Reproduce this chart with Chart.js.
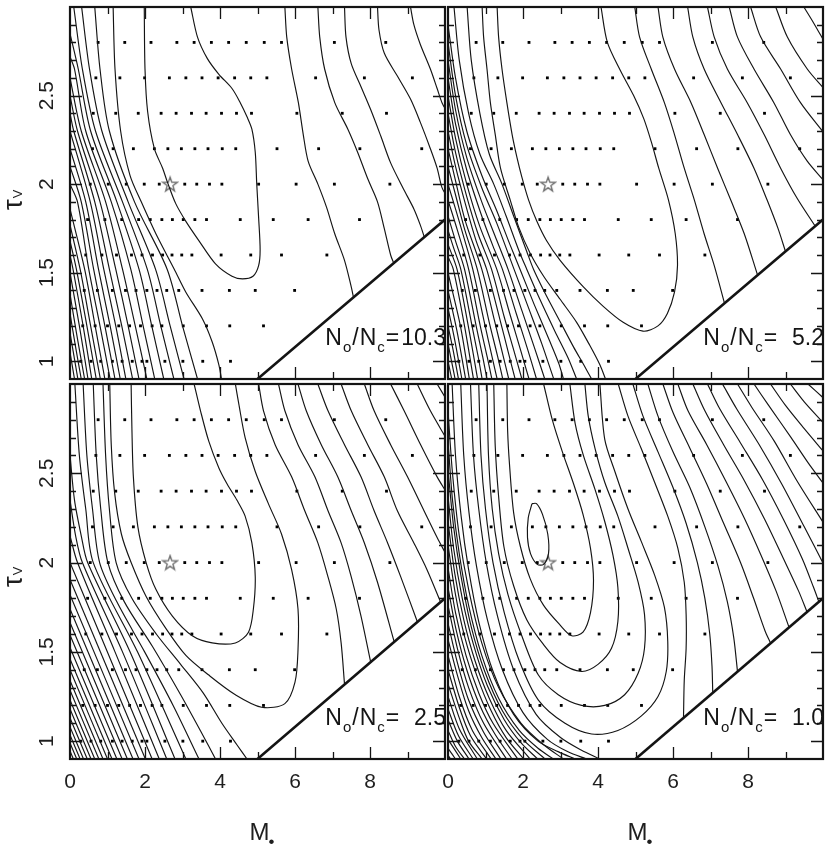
<!DOCTYPE html>
<html><head><meta charset="utf-8">
<script src="https://cdn.jsdelivr.net/npm/chart.js@4"></script>
<style>
html,body{margin:0;padding:0;background:#fff;}
#wrap{position:relative;width:830px;height:847px;overflow:hidden;background:#fff;}
canvas{position:absolute;}
</style></head><body>
<div id="wrap">
<canvas id="cTL" width="452" height="386" style="left:0px;top:0px"></canvas>
<canvas id="cTR" width="400" height="386" style="left:430px;top:0px"></canvas>
<canvas id="cBL" width="452" height="470" style="left:0px;top:377px"></canvas>
<canvas id="cBR" width="400" height="470" style="left:430px;top:377px"></canvas>
</div>
<script>
// ---------------- data ----------------
const xTickLabels = [0, 2, 4, 6, 8];
const yTickLabels = [1, 1.5, 2, 2.5];
const xMajorTicks = [2, 4, 6, 8];
const xMinorTicks = [1, 3, 5, 7, 9];
const yMajorTicks = [1, 1.5, 2, 2.5];
const yMinorTicks = [1.1,1.2,1.3,1.4,1.6,1.7,1.8,1.9,2.1,2.2,2.3,2.4,2.6,2.7,2.8,2.9];
const ratioLabels = ['10.3', '5.2', '2.5', '1.0'];

const gridTau = [2.8, 2.6, 2.4, 2.2, 2.0, 1.8, 1.6, 1.4, 1.2, 1.0];
const gridM_28 = [0.75,1.46,2.16,2.85,3.31,3.77,4.23,4.70,5.18,5.64,7.05,8.42];
const gridM_26 = [0.69,1.33,1.99,2.65,3.09,3.52,3.95,4.39,4.82,5.25,6.55,7.85,9.13];
const gridM_24 = [0.62,1.22,1.82,2.43,2.83,3.24,3.63,4.04,4.44,4.84,6.05,7.26,8.44];
const gridM_22 = [0.6,1.15,1.69,2.25,2.61,2.97,3.33,3.68,4.06,4.42,5.52,6.63,7.73,9.38];
const gridM_20 = [0.54,1.02,1.5,1.98,2.38,3.06,3.38,3.72,4.05,5.03,6.03,7.05,8.53];
const gridM_18 = [0.47,0.93,1.38,1.83,2.14,2.45,2.73,3.02,3.33,3.64,4.54,5.42,6.35,7.72];
const gridM_16 = [0.42,0.85,1.24,1.64,1.92,2.2,2.47,2.72,2.98,3.25,4.03,4.82,5.64,6.85];
const gridM_14 = [0.38,0.73,1.13,1.48,1.76,2.05,2.32,2.58,2.9,3.52,4.25,4.94,5.99];
const gridM_12 = [0.34,0.67,1.0,1.3,1.59,1.88,2.19,2.45,3.02,3.64,4.26,5.16];
const gridM_10 = [0.29,0.56,0.82,1.13,1.39,1.66,1.92,2.05,2.53,3.01,3.54,4.28];
const gridRows = [gridM_28, gridM_26, gridM_24, gridM_22, gridM_20, gridM_18, gridM_16, gridM_14, gridM_12, gridM_10];

const bestFit = [2.67, 2.0];
const boundaryLine = [[5, 0.9], [10, 1.8]];

// ---- panel N_o/N_c = 10.3 ----
const tlInner = [[1.98,3.0],[2.0,2.65],[2.07,2.41],[2.25,2.2],[2.47,2.09],[2.6,2.01],[2.82,1.89],[3.09,1.79],[3.44,1.68],[3.88,1.55],[4.32,1.48],[4.6,1.465],[4.88,1.48],[5.03,1.54],[5.07,1.63],[5.03,1.81],[4.98,2.0],[4.94,2.18],[4.85,2.31],[4.72,2.38],[4.54,2.46],[4.32,2.54],[3.97,2.62],[3.66,2.71],[3.4,2.83],[3.22,3.0]];
const tlLeft = [
 [[0,1.05],[0.12,0.9]],
 [[0,1.16],[0.21,0.9]],
 [[0,1.27],[0.15,1.08],[0.30,0.9]],
 [[0,1.38],[0.18,1.15],[0.39,0.9]],
 [[0,1.5],[0.25,1.2],[0.48,0.9]],
 [[0,1.6],[0.08,1.52],[0.35,1.2],[0.58,0.9]],
 [[0,1.68],[0.17,1.52],[0.45,1.2],[0.70,0.9]],
 [[0,1.77],[0.27,1.52],[0.55,1.2],[0.81,0.9]],
 [[0,1.86],[0.39,1.52],[0.67,1.2],[0.93,0.9]],
 [[0,2.0],[0.2,1.9],[0.5,1.52],[0.8,1.2],[1.07,0.9]],
 [[0,2.1],[0.3,1.9],[0.63,1.52],[0.93,1.2],[1.2,0.9]],
 [[0,2.2],[0.42,1.9],[0.76,1.52],[1.07,1.2],[1.34,0.9]],
 [[0,2.3],[0.54,1.9],[0.9,1.52],[1.22,1.2],[1.49,0.9]],
 [[0,2.4],[0.1,2.3],[0.66,1.9],[1.05,1.52],[1.38,1.2],[1.67,0.9]],
 [[0,2.5],[0.2,2.3],[0.8,1.9],[1.22,1.52],[1.55,1.2],[1.84,0.9]],
 [[0,2.6],[0.3,2.3],[0.95,1.9],[1.4,1.52],[1.74,1.2],[2.05,0.9]],
 [[0,2.72],[0.12,2.65],[0.42,2.3],[1.1,1.9],[1.62,1.52],[1.95,1.2],[2.26,0.9]],
 [[0,2.85],[0.22,2.65],[0.55,2.3],[1.25,1.9],[1.84,1.52],[2.18,1.2],[2.5,0.9]],
 [[0.1,3.0],[0.33,2.65],[0.68,2.3],[1.4,1.9],[2.06,1.52],[2.42,1.2],[2.77,0.9]],
 [[0.31,3.0],[0.52,2.65],[0.85,2.3],[1.55,1.9],[2.28,1.52],[2.67,1.2],[3.04,0.9]],
 [[0.66,3.0],[0.8,2.65],[1.05,2.3],[1.72,1.9],[2.59,1.52],[3.0,1.2],[3.4,0.9]],
 [[1.15,3.0],[1.2,2.65],[1.35,2.3],[1.6,2.05],[1.9,1.9],[2.29,1.72],[2.78,1.52],[3.09,1.39],[3.53,1.24],[3.79,1.11],[3.97,0.98],[4.04,0.9]]
];
const tlRight = [
 [[5.73,3.0],[5.78,2.83],[5.91,2.65],[6.09,2.46],[6.22,2.28],[6.35,2.13],[6.61,2.0],[6.84,1.87],[7.06,1.72],[7.32,1.57],[7.5,1.42],[7.56,1.36]],
 [[6.61,3.0],[6.66,2.83],[6.79,2.65],[7.06,2.46],[7.41,2.31],[7.67,2.18],[7.94,2.03],[8.2,1.9],[8.38,1.75],[8.55,1.6],[8.64,1.55]],
 [[7.32,3.0],[7.36,2.83],[7.5,2.68],[7.76,2.55],[8.02,2.42],[8.29,2.27],[8.55,2.12],[8.9,1.97],[9.17,1.86],[9.34,1.77],[9.45,1.7]],
 [[8.2,3.0],[8.24,2.87],[8.38,2.74],[8.73,2.61],[9.08,2.48],[9.34,2.35],[9.61,2.2],[9.79,2.09],[9.92,1.98],[10.05,1.93]],
 [[9.08,3.0],[9.17,2.9],[9.34,2.79],[9.61,2.65],[9.79,2.54],[9.92,2.46],[10.05,2.41]]
];

// ---- panel N_o/N_c = 5.2 ----
const trInner = [[1.31,3.0],[1.35,2.83],[1.44,2.65],[1.57,2.46],[1.71,2.28],[1.84,2.15],[1.97,2.04],[2.15,1.91],[2.37,1.79],[2.63,1.68],[2.99,1.57],[3.61,1.42],[4.14,1.31],[4.67,1.22],[5.2,1.17],[5.6,1.2],[5.85,1.27],[6.04,1.39],[6.12,1.54],[6.06,1.72],[5.88,1.91],[5.62,2.09],[5.42,2.24],[5.22,2.37],[4.95,2.5],[4.6,2.64],[4.25,2.8],[4.08,3.0]];
const trLeft = [
 [[0,1.0],[0.1,0.9]],
 [[0,1.1],[0.19,0.9]],
 [[0,1.2],[0.13,1.07],[0.28,0.9]],
 [[0,1.3],[0.18,1.12],[0.37,0.9]],
 [[0,1.4],[0.24,1.17],[0.47,0.9]],
 [[0,1.5],[0.33,1.2],[0.57,0.9]],
 [[0,1.59],[0.14,1.52],[0.44,1.2],[0.68,0.9]],
 [[0,1.66],[0.24,1.52],[0.54,1.2],[0.79,0.9]],
 [[0,1.74],[0.15,1.64],[0.34,1.52],[0.64,1.2],[0.81,1.02],[0.91,0.9]],
 [[0,1.82],[0.2,1.68],[0.44,1.52],[0.75,1.2],[0.93,1.02],[1.04,0.9]],
 [[0,1.91],[0.25,1.74],[0.55,1.52],[0.86,1.2],[1.05,1.02],[1.17,0.9]],
 [[0,2.0],[0.2,1.86],[0.45,1.68],[0.66,1.52],[0.98,1.21],[1.18,1.02],[1.31,0.9]],
 [[0,2.1],[0.2,1.94],[0.45,1.74],[0.78,1.52],[1.1,1.22],[1.32,1.03],[1.46,0.9]],
 [[0,2.2],[0.2,2.02],[0.45,1.8],[0.9,1.52],[1.24,1.23],[1.47,1.03],[1.62,0.9]],
 [[0,2.3],[0.2,2.1],[0.5,1.86],[0.75,1.68],[1.03,1.52],[1.38,1.24],[1.62,1.04],[1.79,0.9]],
 [[0,2.4],[0.2,2.18],[0.5,1.93],[0.8,1.72],[1.16,1.52],[1.5,1.25],[1.77,1.05],[1.97,0.9]],
 [[0,2.5],[0.2,2.26],[0.5,2.0],[0.85,1.76],[1.3,1.52],[1.66,1.26],[1.94,1.06],[2.16,0.9]],
 [[0,2.6],[0.2,2.34],[0.5,2.08],[0.9,1.82],[1.2,1.65],[1.45,1.52],[1.82,1.27],[2.12,1.07],[2.36,0.9]],
 [[0,2.7],[0.2,2.42],[0.5,2.15],[0.9,1.9],[1.25,1.71],[1.6,1.52],[1.98,1.28],[2.3,1.08],[2.58,0.9]],
 [[0,2.8],[0.2,2.5],[0.5,2.22],[0.9,1.98],[1.3,1.78],[1.76,1.52],[2.15,1.3],[2.5,1.1],[2.82,0.9]],
 [[0,2.9],[0.2,2.6],[0.5,2.3],[0.9,2.05],[1.3,1.85],[1.65,1.66],[1.92,1.52],[2.3,1.32],[2.7,1.12],[2.95,0.99],[3.08,0.9]],
 [[0.16,3.0],[0.3,2.7],[0.55,2.4],[0.85,2.17],[1.22,2.0],[1.55,1.82],[1.9,1.62],[2.1,1.52],[2.45,1.35],[2.85,1.17],[3.2,1.02],[3.43,0.9]],
 [[0.51,3.0],[0.62,2.7],[0.85,2.4],[1.1,2.17],[1.44,2.0],[1.75,1.82],[2.1,1.62],[2.28,1.52],[2.6,1.38],[3.0,1.22],[3.35,1.08],[3.62,0.98],[3.83,0.9]],
 [[0.91,3.0],[0.95,2.83],[1.04,2.65],[1.13,2.46],[1.26,2.28],[1.4,2.09],[1.66,1.91],[1.88,1.76],[2.19,1.61],[2.55,1.48],[2.99,1.35],[3.43,1.22],[3.78,1.09],[4.05,0.98],[4.2,0.9]]
];
const trRight = [
 [[4.98,3.0],[5.11,2.83],[5.42,2.65],[5.77,2.46],[6.04,2.28],[6.3,2.09],[6.57,1.91],[6.83,1.72],[7.1,1.54],[7.37,1.33]],
 [[5.6,3.0],[5.73,2.83],[6.04,2.65],[6.48,2.46],[6.83,2.28],[7.19,2.09],[7.54,1.91],[7.9,1.72],[8.25,1.49]],
 [[6.39,3.0],[6.53,2.83],[6.83,2.65],[7.28,2.46],[7.72,2.28],[8.16,2.09],[8.51,1.91],[8.8,1.75],[9.0,1.62]],
 [[6.92,3.0],[7.1,2.83],[7.45,2.65],[7.98,2.46],[8.43,2.28],[8.87,2.09],[9.31,1.92],[9.8,1.76]],
 [[7.5,3.0],[7.72,2.83],[8.16,2.65],[8.69,2.46],[9.13,2.28],[9.58,2.13],[10.02,2.02]],
 [[8.07,3.0],[8.34,2.83],[8.87,2.65],[9.4,2.46],[10.02,2.29]],
 [[8.74,3.0],[9.05,2.83],[9.58,2.65],[10.02,2.54]],
 [[9.49,3.0],[9.75,2.91],[10.02,2.81]]
];

// ---- panel N_o/N_c = 2.5 ----
const blInner = [[1.63,3.0],[1.65,2.76],[1.69,2.48],[1.81,2.2],[2.03,2.0],[2.29,1.85],[2.73,1.7],[3.26,1.59],[3.79,1.55],[4.41,1.55],[4.76,1.61],[4.89,1.74],[4.94,1.92],[4.85,2.11],[4.67,2.26],[4.45,2.35],[4.19,2.44],[3.97,2.53],[3.7,2.68],[3.48,2.85],[3.31,3.0]];
const blSecond = [[1.06,3.0],[1.1,2.66],[1.19,2.39],[1.37,2.16],[1.63,2.0],[2.03,1.81],[2.56,1.63],[3.09,1.48],[3.7,1.37],[4.41,1.26],[5.11,1.19],[5.73,1.21],[6.0,1.33],[6.08,1.51],[6.08,1.74],[5.91,1.96],[5.64,2.16],[5.29,2.33],[4.94,2.51],[4.67,2.7],[4.5,2.89],[4.41,3.0]];
const blLeft = [
 [[0,0.945],[0.09,0.9]],
 [[0,0.99],[0.18,0.9]],
 [[0,1.035],[0.27,0.9]],
 [[0,1.08],[0.36,0.9]],
 [[0,1.13],[0.46,0.9]],
 [[0,1.18],[0.56,0.9]],
 [[0,1.23],[0.66,0.9]],
 [[0,1.285],[0.77,0.9]],
 [[0,1.34],[0.88,0.9]],
 [[0,1.4],[1.0,0.9]],
 [[0,1.46],[1.12,0.9]],
 [[0,1.525],[1.25,0.9]],
 [[0,1.595],[1.39,0.9]],
 [[0,1.665],[1.53,0.9]],
 [[0,1.74],[1.68,0.9]],
 [[0,1.82],[1.84,0.9]],
 [[0,1.905],[2.01,0.9]],
 [[0,2.0],[2.19,0.9]],
 [[0,2.15],[0.2,2.0],[1.2,1.5],[2.38,0.9]],
 [[0,2.35],[0.15,2.15],[0.33,2.0],[1.4,1.5],[2.58,0.9]],
 [[0,2.6],[0.12,2.35],[0.3,2.15],[0.47,2.0],[1.6,1.5],[2.8,0.9]],
 [[0.13,3.0],[0.25,2.6],[0.42,2.3],[0.62,2.0],[1.8,1.5],[3.09,0.9]],
 [[0.35,3.0],[0.45,2.6],[0.6,2.3],[0.79,2.0],[1.25,1.78],[1.99,1.5],[2.75,1.2],[3.44,0.9]],
 [[0.62,3.0],[0.7,2.6],[0.82,2.3],[1.01,2.0],[1.45,1.78],[2.2,1.53],[2.95,1.26],[3.5,1.05],[3.88,0.9]],
 [[0.88,3.0],[0.95,2.6],[1.05,2.3],[1.23,2.0],[1.65,1.8],[2.3,1.6],[2.95,1.43],[3.55,1.27],[4.05,1.1],[4.45,0.98],[4.72,0.9]]
];
const blRight = [
 [[5.03,3.0],[5.16,2.85],[5.47,2.66],[5.91,2.48],[6.26,2.29],[6.61,2.11],[6.88,1.92],[7.1,1.74],[7.23,1.55],[7.32,1.32]],
 [[5.56,3.0],[5.73,2.85],[6.08,2.66],[6.53,2.48],[6.88,2.29],[7.23,2.11],[7.5,1.92],[7.76,1.7],[8.02,1.44]],
 [[6.08,3.0],[6.3,2.85],[6.7,2.66],[7.14,2.48],[7.5,2.29],[7.85,2.11],[8.2,1.89],[8.64,1.56]],
 [[6.61,3.0],[6.88,2.85],[7.32,2.66],[7.76,2.48],[8.11,2.29],[8.47,2.11],[8.82,1.92],[9.26,1.67]],
 [[7.23,3.0],[7.5,2.85],[7.94,2.66],[8.38,2.48],[8.73,2.29],[9.17,2.11],[9.52,1.96],[9.88,1.78]],
 [[7.85,3.0],[8.11,2.85],[8.55,2.66],[9.0,2.48],[9.44,2.29],[9.79,2.14],[10.02,2.05]],
 [[8.55,3.0],[8.91,2.85],[9.35,2.66],[9.79,2.48],[10.02,2.4]],
 [[9.26,3.0],[9.61,2.85],[10.02,2.7]],
 [[9.79,3.0],[10.02,2.92]]
];

// ---- panel N_o/N_c = 1.0 ----
const brLoop = [[2.24,2.33],[2.14,2.25],[2.12,2.14],[2.2,2.05],[2.38,1.99],[2.55,1.99],[2.68,2.05],[2.66,2.16],[2.52,2.27],[2.36,2.33],[2.24,2.33]];
const brRings = [
 [[1.57,3.0],[1.59,2.74],[1.64,2.55],[1.75,2.28],[1.93,2.09],[2.19,1.91],[2.55,1.76],[2.99,1.65],[3.3,1.59],[3.6,1.61],[3.8,1.72],[3.88,1.9],[3.8,2.08],[3.6,2.27],[3.35,2.44],[3.05,2.62],[2.78,2.8],[2.55,3.0]],
 [[1.22,3.0],[1.26,2.65],[1.35,2.37],[1.49,2.09],[1.75,1.87],[2.1,1.68],[2.55,1.54],[2.99,1.44],[3.56,1.39],[4.0,1.43],[4.36,1.52],[4.53,1.67],[4.53,1.86],[4.4,2.04],[4.18,2.23],[3.92,2.41],[3.61,2.6],[3.39,2.78],[3.25,3.0]],
 [[1.04,3.0],[1.08,2.6],[1.18,2.3],[1.35,2.05],[1.6,1.82],[1.95,1.6],[2.41,1.37],[2.94,1.26],[3.56,1.2],[4.18,1.2],[4.71,1.26],[5.07,1.38],[5.24,1.52],[5.24,1.71],[5.07,1.89],[4.8,2.08],[4.53,2.26],[4.18,2.45],[3.92,2.64],[3.74,2.82],[3.65,3.0]],
 [[0.82,3.0],[0.88,2.6],[1.0,2.3],[1.2,2.0],[1.5,1.72],[1.9,1.45],[2.41,1.23],[3.12,1.1],[3.83,1.04],[4.53,1.06],[5.15,1.14],[5.6,1.25],[5.82,1.39],[5.86,1.56],[5.77,1.75],[5.51,1.93],[5.15,2.12],[4.8,2.3],[4.45,2.51],[4.18,2.69],[4.05,3.0]]
];
const brLeft = [
 [[0,0.92],[0.07,0.9]],
 [[0,0.96],[0.2,0.9]],
 [[0,1.01],[0.34,0.9]],
 [[0,1.06],[0.2,0.97],[0.44,0.9]],
 [[0,1.12],[0.25,1.0],[0.56,0.9]],
 [[0,1.18],[0.28,1.03],[0.67,0.9]],
 [[0,1.25],[0.3,1.07],[0.78,0.9]],
 [[0,1.32],[0.3,1.13],[0.55,1.0],[0.91,0.9]],
 [[0,1.4],[0.3,1.19],[0.6,1.03],[1.03,0.9]],
 [[0,1.48],[0.3,1.25],[0.65,1.06],[1.15,0.9]],
 [[0,1.57],[0.25,1.37],[0.55,1.17],[0.9,1.02],[1.28,0.9]],
 [[0,1.66],[0.25,1.44],[0.55,1.23],[0.95,1.05],[1.41,0.9]],
 [[0,1.76],[0.25,1.52],[0.55,1.3],[0.95,1.1],[1.56,0.9]],
 [[0,1.86],[0.22,1.62],[0.5,1.4],[0.85,1.2],[1.25,1.04],[1.71,0.9]],
 [[0,1.97],[0.2,1.72],[0.48,1.48],[0.82,1.27],[1.2,1.1],[1.86,0.9]],
 [[0,2.1],[0.2,1.82],[0.45,1.58],[0.78,1.36],[1.15,1.17],[1.55,1.02],[2.02,0.9]],
 [[0,2.23],[0.18,1.94],[0.42,1.68],[0.72,1.45],[1.1,1.24],[1.55,1.06],[2.19,0.9]],
 [[0,2.37],[0.15,2.08],[0.38,1.8],[0.68,1.54],[1.05,1.31],[1.5,1.12],[1.95,0.99],[2.39,0.9]],
 [[0,2.52],[0.15,2.2],[0.35,1.92],[0.62,1.64],[0.98,1.39],[1.45,1.17],[2.0,1.01],[2.59,0.9]],
 [[0,2.68],[0.12,2.35],[0.3,2.05],[0.55,1.76],[0.9,1.48],[1.35,1.24],[1.9,1.06],[2.4,0.96],[2.81,0.9]],
 [[0,2.85],[0.12,2.5],[0.3,2.15],[0.55,1.85],[0.9,1.55],[1.35,1.3],[1.95,1.1],[2.55,0.98],[3.08,0.9]],
 [[0.11,3.0],[0.2,2.6],[0.35,2.26],[0.55,1.96],[0.83,1.66],[1.22,1.38],[1.75,1.15],[2.4,1.0],[2.95,0.94],[3.39,0.9]],
 [[0.34,3.0],[0.42,2.6],[0.56,2.28],[0.76,1.98],[1.05,1.68],[1.45,1.4],[2.0,1.16],[2.65,1.01],[3.2,0.94],[3.7,0.9]],
 [[0.6,3.0],[0.68,2.6],[0.82,2.3],[1.02,2.0],[1.32,1.7],[1.75,1.4],[2.35,1.15],[3.0,1.02],[3.55,0.95],[4.05,0.9]]
];
const brRight = [
 [[4.54,3.0],[4.8,2.82],[5.15,2.64],[5.51,2.45],[5.86,2.26],[6.13,2.08],[6.3,1.89],[6.35,1.71],[6.35,1.52],[6.3,1.34],[6.28,1.13]],
 [[4.93,3.0],[5.2,2.82],[5.6,2.62],[6.0,2.42],[6.35,2.22],[6.65,2.0],[6.85,1.8],[6.98,1.6],[7.04,1.42],[7.06,1.27]],
 [[5.33,3.0],[5.6,2.82],[6.0,2.62],[6.45,2.42],[6.85,2.2],[7.2,1.98],[7.45,1.78],[7.62,1.58],[7.72,1.39]],
 [[5.73,3.0],[6.0,2.84],[6.45,2.64],[6.9,2.44],[7.35,2.22],[7.8,2.0],[8.15,1.8],[8.45,1.62],[8.6,1.55]],
 [[6.13,3.0],[6.4,2.85],[6.9,2.66],[7.4,2.46],[7.9,2.25],[8.35,2.04],[8.75,1.84],[9.09,1.64]],
 [[6.53,3.0],[6.85,2.85],[7.35,2.66],[7.9,2.46],[8.45,2.24],[8.95,2.02],[9.35,1.84],[9.58,1.72]],
 [[6.92,3.0],[7.25,2.86],[7.8,2.67],[8.4,2.46],[8.95,2.24],[9.45,2.02],[9.75,1.86],[9.89,1.78]],
 [[7.32,3.0],[7.7,2.86],[8.3,2.66],[8.9,2.44],[9.5,2.2],[10.02,1.99]],
 [[7.72,3.0],[8.1,2.87],[8.7,2.68],[9.3,2.46],[10.02,2.22]],
 [[8.16,3.0],[8.55,2.88],[9.15,2.7],[9.6,2.56],[10.02,2.44]],
 [[8.6,3.0],[9.0,2.88],[9.5,2.75],[10.02,2.62]],
 [[9.13,3.0],[9.5,2.9],[10.02,2.78]],
 [[9.6,3.0],[10.02,2.92]]
];

// ---------------- drawing ----------------
const FONT = '"Liberation Sans", Arial, Helvetica, sans-serif';
const INK = '#141414';

function makeStar() {
  const c = document.createElement('canvas');
  c.width = 18; c.height = 18;
  const g = c.getContext('2d');
  g.strokeStyle = '#707070'; g.lineWidth = 1.4; g.lineJoin = 'miter';
  g.beginPath();
  for (let i = 0; i < 10; i++) {
    const r = i % 2 ? 3.0 : 7.5;
    const ang = -Math.PI / 2 + i * Math.PI / 5;
    const px = 9 + r * Math.cos(ang), py = 9.6 + r * Math.sin(ang);
    if (i) g.lineTo(px, py); else g.moveTo(px, py);
  }
  g.closePath(); g.stroke();
  return c;
}
const starImg = makeStar();

const dotPoints = [];
gridRows.forEach((row, i) => row.forEach(m => dotPoints.push({x: m, y: gridTau[i]})));

function lineDS(pts, w) {
  return {
    data: pts.map(p => ({x: p[0], y: p[1]})),
    showLine: true, pointRadius: 0, pointHoverRadius: 0,
    borderColor: INK, borderWidth: w, tension: 0.3, fill: false
  };
}

function drawRatio(ctx, a, num) {
  const main = '23px ' + FONT, sub = '15px ' + FONT;
  const R = a.right + 1, base = a.bottom - 34;
  ctx.textBaseline = 'alphabetic';
  ctx.font = main;
  const numW = ctx.measureText('10.3').width;
  ctx.textAlign = 'right';
  ctx.fillText(num, R, base);
  let x = R - numW - 2;
  const parts = [['=', main, 0], ['c', sub, 7], ['N', main, 0], ['/', main, 0], ['o', sub, 7], ['N', main, 0]];
  for (const [t, f, dy] of parts) {
    ctx.font = f;
    ctx.fillText(t, x, base + dy);
    x -= ctx.measureText(t).width + 1;
  }
}

const panelDeco = {
  id: 'panelDeco',
  afterDraw(chart, args, o) {
    const ctx = chart.ctx, a = chart.chartArea, xs = chart.scales.x, ys = chart.scales.y;
    ctx.save();
    ctx.fillStyle = INK; ctx.strokeStyle = INK;
    drawRatio(ctx, a, o.ratio);
    ctx.lineWidth = 1.3;
    ctx.beginPath();
    const vt = (vals, len) => vals.forEach(v => {
      const px = Math.round(xs.getPixelForValue(v)) + 0.5;
      ctx.moveTo(px, a.bottom); ctx.lineTo(px, a.bottom - len);
      ctx.moveTo(px, a.top); ctx.lineTo(px, a.top + len);
    });
    const ht = (vals, len) => vals.forEach(v => {
      const py = Math.round(ys.getPixelForValue(v)) + 0.5;
      ctx.moveTo(a.left, py); ctx.lineTo(a.left + len, py);
      ctx.moveTo(a.right, py); ctx.lineTo(a.right - len, py);
    });
    vt(xMajorTicks, 12); vt(xMinorTicks, 7);
    ht(yMajorTicks, 12); ht(yMinorTicks, 6);
    ctx.stroke();
    ctx.lineWidth = 2.2;
    ctx.strokeRect(a.left, a.top, a.right - a.left, a.bottom - a.top);
    ctx.fillStyle = '#1e1e1e';
    if (o.showY) {
      ctx.font = '21px ' + FONT;
      ctx.textAlign = 'center'; ctx.textBaseline = 'middle';
      yTickLabels.forEach(v => {
        ctx.save();
        ctx.translate(a.left - 23, ys.getPixelForValue(v));
        ctx.rotate(-Math.PI / 2);
        ctx.fillText(String(v), 0, 0);
        ctx.restore();
      });
      ctx.save();
      ctx.translate(22, a.top + 203);
      ctx.rotate(-Math.PI / 2);
      ctx.textAlign = 'left'; ctx.textBaseline = 'alphabetic';
      ctx.font = '27px ' + FONT;
      ctx.fillText('\u03C4', 0, 0);
      const tw = ctx.measureText('\u03C4').width;
      ctx.font = '13px ' + FONT;
      ctx.fillText('V', tw + 1, 0);
      ctx.restore();
    }
    if (o.showX) {
      ctx.font = '21px ' + FONT;
      ctx.textAlign = 'center'; ctx.textBaseline = 'middle';
      xTickLabels.forEach(v => ctx.fillText(String(v), xs.getPixelForValue(v), a.bottom + 23));
      const cx = (a.left + a.right) / 2;
      ctx.textAlign = 'left'; ctx.textBaseline = 'alphabetic';
      ctx.font = '24px ' + FONT;
      ctx.fillText('M', cx - 8, a.bottom + 81);
      const mw = ctx.measureText('M').width;
      ctx.font = '17px ' + FONT;
      ctx.fillText('\u2022', cx - 8 + mw - 1, a.bottom + 88);
    }
    ctx.restore();
  }
};

function makeChart(id, lines, deco, pad) {
  const ds = lines.map(l => lineDS(l, 1.15));
  ds.push({data: dotPoints, showLine: false, pointStyle: 'rect', pointRadius: 2.0,
           pointBackgroundColor: '#000', pointBorderWidth: 0, borderWidth: 0});
  ds.push(lineDS(boundaryLine, 2.6));
  ds.push({data: [{x: bestFit[0], y: bestFit[1]}], showLine: false, pointStyle: starImg, pointRadius: 6});
  new Chart(document.getElementById(id), {
    type: 'scatter',
    data: {datasets: ds},
    options: {
      responsive: false, animation: false, devicePixelRatio: 1, events: [],
      layout: {padding: pad},
      scales: {
        x: {type: 'linear', min: 0, max: 10, display: false},
        y: {type: 'linear', min: 0.9, max: 3.0, display: false}
      },
      plugins: {legend: {display: false}, tooltip: {enabled: false}, panelDeco: deco}
    },
    plugins: [panelDeco]
  });
}

makeChart('cTL', [tlInner, ...tlLeft, ...tlRight],
  {ratio: ratioLabels[0], showY: true, showX: false}, {left: 70, right: 4, top: 3, bottom: 5});
makeChart('cTR', [trInner, ...trLeft, ...trRight],
  {ratio: ratioLabels[1], showY: false, showX: false}, {left: 18, right: 4, top: 3, bottom: 5});
makeChart('cBL', [blInner, blSecond, ...blLeft, ...blRight],
  {ratio: ratioLabels[2], showY: true, showX: true}, {left: 70, right: 4, top: 4, bottom: 88});
makeChart('cBR', [brLoop, ...brRings, ...brLeft, ...brRight],
  {ratio: ratioLabels[3], showY: false, showX: true}, {left: 18, right: 4, top: 4, bottom: 88});
</script>
</body></html>
